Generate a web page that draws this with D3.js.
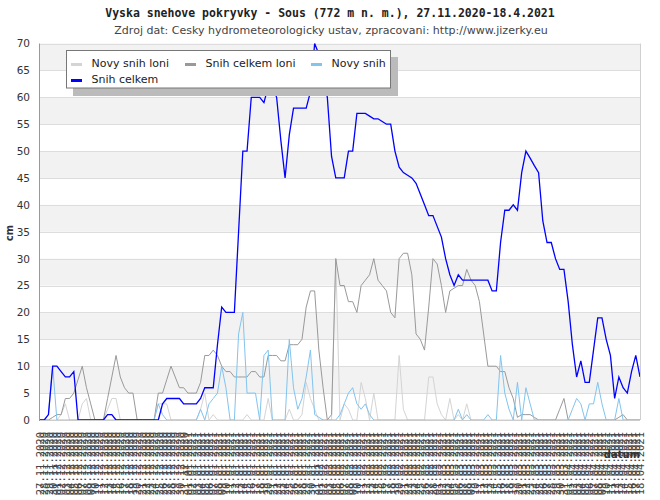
<!DOCTYPE html>
<html><head><meta charset="utf-8">
<script src="https://cdn.jsdelivr.net/npm/d3@7"></script>
<style>body{margin:0;background:#fff}</style>
</head><body><svg id="c" width="660" height="500"></svg>
<script>
const titleText = "Vyska snehove pokryvky - Sous (772 m n. m.), 27.11.2020-18.4.2021";
const subtitleText = "Zdroj dat: Cesky hydrometeorologicky ustav, zpracovani: http://www.jizerky.eu";
const yTicks = [0,5,10,15,20,25,30,35,40,45,50,55,60,65,70];
const yTitle = "cm";
const xTitle = "datum";
const fmt = d3.utcFormat("%d.%m.%Y");
const dates = d3.utcDay.range(new Date(Date.UTC(2020,10,27)), new Date(Date.UTC(2021,3,19))).map(fmt);

const novySnihLoni = [0,0,0,0,0,1,3,0,0,0,
 3,4,0,0,0,0,2,4,4,0,
 0,0,0,0,0,0,0,0,3,3,
 3,0,0,0,0,0,0,0,2,5,
 0,1,0,0,0,0,0,0,0,1,
 0,0,0,0,4,0,0,0,0,2,
 0,0,1,7,4,2,0,0,0,0,
 30,0,3,2,0,0,7,4,0,5,
 0,0,0,0,0,12,2,0,0,0,
 0,0,8,8,3,1,0,4,0,1,
 0,3,0,0,0,0,0,0,0,0,
 0,0,0,0,0,0,0,0,0,0,
 0,0,0,0,0,0,0,0,0,0,
 0,0,0,0,0,0,0,0,0,0,
 0,0,0];
const snihCelkemLoni = [0,0,0,0.5,1,1,4,4,5,7.5,
 10,6,3,0,0,0,4,8,12,8,
 6,5,5,0,0,0,0,0,5,5,
 7.5,10,8,6,6,5,5,5,7,12,
 12,13,12,10,9,9,8,8,8,8,
 9,9,8,8,12,12,12,11,11,14,
 14,14,15,21,24,24,13,6,0,1,
 30,25,25,22,22,20,25,26,27,30,
 26,25,24,20,19,30,31,31,27,16,
 15,13,21,30,29,25,20,24,24.5,25,
 25,28,26,25,22,16,10,10,10,9,
 9,6,4,0.5,1,1,1,0.5,0,0,
 0,0,0,2,4,0,0,0,0,0,
 0,0,0,0,0,0,0,0.5,1,0,
 0,0,0];
const novySnih = [0,0,1,10,0,0,0,0,0,0,
 0,0,0,0,0,0,0,0,0,0,
 0,0,0,0,0,0,0,0,3,1,
 0,0,0,0,0,0,0,0,2,0,
 3,4,5,10,6,0,0,16,20,5,
 5,5,0,12,13,0,0,0,0,15,
 6,2,4,8,13,1,0.5,0,0,0,
 0,1,3,5,6,3,2,3,1,0,
 0,0,0,0,0,0,0,0,0,0,
 0,0,0,0,0,0,0,0,0,2,
 0,1,0,0,0,0,1,0,0,12,
 5,2,0,7,0,6,3,0,0,0,
 0,0,0,0,0,0,2,4,3,0,
 3,3,7,3,0,0,0,4,0,0,
 0,0,0];
const snihCelkem = [0,0,1,10,10,9,8,8,9,0,
 0,0,0,0,0,0,1,1,0,0,
 0,0,0,0,0,0,0,0,0,3,
 4,4,4,4,3,3,3,3,4,6,
 6,6,14,21,20,20,20,35,50,50,
 60,60,60,59,62,62,60,52,45,53,
 58,58,58,58,61,70,68,64,60,49,
 45,45,45,50,50,57,57,57,56.5,56,
 56,55.5,55,55,50,47,46,45.5,45,44,
 42,40,38,38,36,34,30,27,25,27,
 26,26,26,26,26,26,26,24,24,33,
 39,39,40,39,46,50,48.7,47.3,46,37,
 33,33,30,28,28,22,14,8,11,7,
 7,13,19,19,15,12,4,8,6,5,
 9,12,8];
const seriesNames = ["Novy snih loni","Snih celkem loni","Novy snih","Snih celkem"];
const seriesColors = ["#d4d4d4","#999999","#82c4ee","#0000ff"];
const seriesWidths = [1,1,1,1.3];
const seriesData = [novySnihLoni, snihCelkemLoni, novySnih, snihCelkem];

const svg = d3.select("#c");
const L = 40, R = 640, T = 43.5, B = 420;
const x = d3.scalePoint().domain(dates).range([L, R]).padding(0);
const y = d3.scaleLinear().domain([0, 70]).range([B, T]);

svg.append("rect").attr("width",660).attr("height",500).attr("fill","#fff");

// bands
const bandStarts = yTicks.slice(0, -1).filter(v => (v / 5) % 2 === 1);
svg.append("g").selectAll("rect").data(bandStarts).join("rect")
  .attr("x", L).attr("width", R - L)
  .attr("y", d => y(d + 5)).attr("height", d => y(d) - y(d + 5))
  .attr("fill", "#f2f2f2");

// grid
svg.append("g").selectAll("line").data(yTicks.slice(1)).join("line")
  .attr("x1", L).attr("x2", R)
  .attr("y1", d => Math.round(y(d)) + 0.5).attr("y2", d => Math.round(y(d)) + 0.5)
  .attr("stroke", "#dddddd").attr("stroke-width", 1);

// lines
seriesData.forEach((arr, k) => {
  const line = d3.line().x((d, i) => x(dates[i])).y(d => y(d));
  svg.append("path").datum(arr).attr("d", line)
    .attr("fill", "none").attr("stroke", seriesColors[k])
    .attr("stroke-width", seriesWidths[k]).attr("stroke-linejoin", "miter");
});

// borders
svg.append("line").attr("x1", R + 0.5).attr("x2", R + 0.5).attr("y1", T).attr("y2", B).attr("stroke", "#d0d0d0");
svg.append("line").attr("x1", L).attr("x2", R).attr("y1", B + 0.5).attr("y2", B + 0.5).attr("stroke", "#cccccc");
svg.append("line").attr("x1", L - 0.5).attr("x2", L - 0.5).attr("y1", T).attr("y2", B + 1).attr("stroke", "#999999");

// y axis labels
const yAxis = d3.axisLeft(y).tickValues(yTicks).tickSize(0).tickPadding(10);
const ya = svg.append("g").attr("transform", `translate(${L},0)`).call(yAxis);
ya.select(".domain").remove();
ya.selectAll("text").attr("font-family", "DejaVu Sans").attr("font-size", 10.5).attr("fill", "#333");

svg.append("text").text(yTitle).attr("transform", "translate(13,233) rotate(-90)")
  .attr("text-anchor", "middle").attr("font-family", "DejaVu Sans").attr("font-weight", "bold")
  .attr("font-size", 10).attr("fill", "#333");

// x axis labels
const xAxis = d3.axisBottom(x).tickSize(0).tickPadding(0);
const xa = svg.append("g").attr("transform", `translate(0,${B})`).call(xAxis);
xa.select(".domain").remove();
xa.selectAll("text")
  .attr("font-family", "DejaVu Sans Mono").attr("font-size", 10.5).attr("fill", "#444")
  .attr("text-anchor", "end").attr("dy", null).attr("y", null)
  .attr("transform", "translate(3.7,12) rotate(-90)");

svg.append("text").text(xTitle).attr("x", 640).attr("y", 458)
  .attr("text-anchor", "end").attr("font-family", "DejaVu Sans").attr("font-weight", "bold")
  .attr("font-size", 10).attr("fill", "#333");

// title
function fitText(sel, target) {
  const w = sel.node().getComputedTextLength();
  const fs = parseFloat(sel.attr("font-size"));
  sel.attr("font-size", fs * target / w);
}
const t1 = svg.append("text").text(titleText).attr("x", 330).attr("y", 17)
  .attr("text-anchor", "middle").attr("font-family", "DejaVu Sans Mono").attr("font-weight", "bold")
  .attr("font-size", 11.5).attr("fill", "#222");
fitText(t1, 450);
const t2 = svg.append("text").text(subtitleText).attr("x", 331).attr("y", 34)
  .attr("text-anchor", "middle").attr("font-family", "DejaVu Sans")
  .attr("font-size", 11).attr("fill", "#444");
fitText(t2, 434);

// legend
const lg = svg.append("g");
lg.append("rect").attr("x", 73).attr("y", 57).attr("width", 325).attr("height", 39).attr("fill", "#bbbbbb");
lg.append("rect").attr("x", 66.5).attr("y", 50.5).attr("width", 324).attr("height", 37.5)
  .attr("fill", "#fff").attr("stroke", "#777");
const legendPos = [[71, 63.5], [185, 63.5], [311, 63.5], [71, 79.5]];
seriesNames.forEach((name, k) => {
  const [lx, ly] = legendPos[k];
  lg.append("line").attr("x1", lx).attr("x2", lx + 11).attr("y1", ly + 1).attr("y2", ly + 1)
    .attr("stroke", seriesColors[k]).attr("stroke-width", 3);
  lg.append("text").text(name).attr("x", lx + 20.5).attr("y", ly)
    .attr("dominant-baseline", "central").attr("font-family", "DejaVu Sans")
    .attr("font-size", 11).attr("fill", "#222");
});
</script>
</body></html>
